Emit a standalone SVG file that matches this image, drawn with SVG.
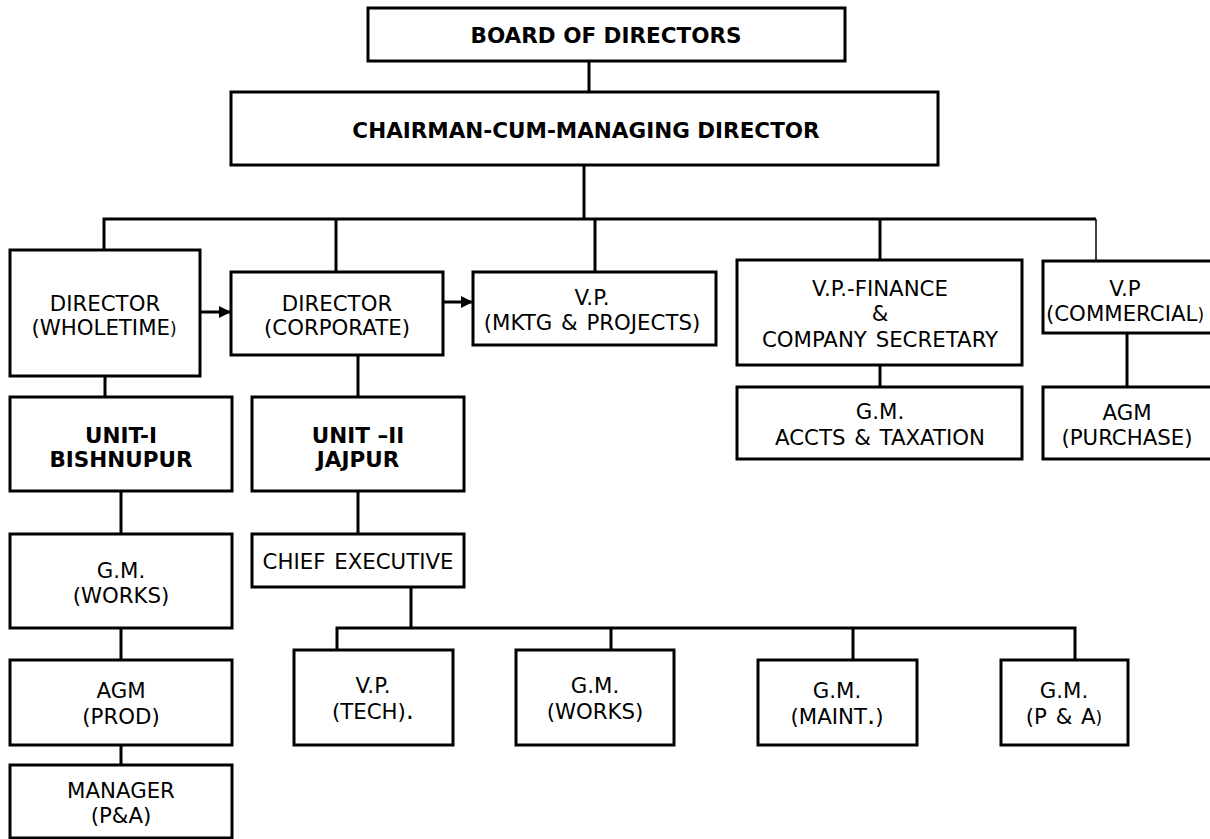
<svg xmlns="http://www.w3.org/2000/svg" width="1210" height="839" viewBox="0 0 1210 839">
<style>
.box{fill:#fff;stroke:#000;stroke-width:3}
.t{font-family:"DejaVu Sans",Verdana,sans-serif;font-size:21.3px;fill:#000;text-anchor:middle;word-spacing:2px}
.b{font-weight:bold;font-size:21.5px;word-spacing:0}
.ln{fill:none;stroke:#000;stroke-width:3}
.thin{fill:none;stroke:#000;stroke-width:1.5}
.sm{font-size:17px}
.big{font-size:26px}
</style>
<defs>
<marker id="arr" markerWidth="12" markerHeight="12" refX="11" refY="6" orient="auto" markerUnits="userSpaceOnUse">
<path d="M0,0 L12,6 L0,12 z" fill="#000"/>
</marker>
</defs>
<rect width="1210" height="839" fill="#fff"/>
<g id="connectors">
<path class="ln" d="M589,61 V92"/>
<path class="ln" d="M584,165 V219"/>
<path class="ln" d="M104,250 V219 H1096"/>
<path class="thin" d="M1096,219 V261"/>
<path class="ln" d="M336,219 V272"/>
<path class="ln" d="M595,219 V272"/>
<path class="ln" d="M880,219 V260"/>
<path class="ln" d="M200,312 H230" marker-end="url(#arr)"/>
<path class="ln" d="M443,302 H472" marker-end="url(#arr)"/>
<path class="ln" d="M105,376 V397"/>
<path class="ln" d="M358,355 V397"/>
<path class="ln" d="M880,365 V387"/>
<path class="ln" d="M1127,333 V387"/>
<path class="ln" d="M121,491 V534"/>
<path class="ln" d="M121,628 V660"/>
<path class="ln" d="M121,745 V765"/>
<path class="ln" d="M358,491 V534"/>
<path class="ln" d="M411,587 V628"/>
<path class="ln" d="M337,650 V628 H1075 V660"/>
<path class="ln" d="M611,628 V650"/>
<path class="ln" d="M853,628 V660"/>
</g>
<g id="board"><rect class="box" x="368" y="8" width="477" height="53"/><text class="t b" x="606" y="43">BOARD OF DIRECTORS</text></g>
<g id="cmd"><rect class="box" x="231" y="92" width="707" height="73"/><text class="t b" x="586" y="138">CHAIRMAN-CUM-MANAGING DIRECTOR</text></g>
<g id="dir-wholetime"><rect class="box" x="10" y="250" width="190" height="126"/><text class="t" x="105" y="311">DIRECTOR</text><text class="t" x="104" y="335">(WHOLETIME<tspan class="sm">)</tspan></text></g>
<g id="dir-corporate"><rect class="box" x="231" y="272" width="212" height="83"/><text class="t" x="337" y="311">DIRECTOR</text><text class="t" x="337" y="335">(CORPORATE)</text></g>
<g id="vp-mktg"><rect class="box" x="473" y="272" width="243" height="73"/><text class="t" x="592" y="305">V.P.</text><text class="t" x="592" y="330">(MKTG &amp; PROJECTS)</text></g>
<g id="vp-finance"><rect class="box" x="737" y="260" width="285" height="105"/><text class="t" x="880" y="296">V.P.-FINANCE</text><text class="t" x="880" y="321">&amp;</text><text class="t" x="880" y="347">COMPANY SECRETARY</text></g>
<g id="vp-commercial"><rect class="box" x="1043" y="261" width="170" height="72"/><text class="t" x="1125" y="296">V.P</text><text class="t" x="1125" y="321">(COMMERCIAL<tspan class="sm">)</tspan></text></g>
<g id="gm-accts"><rect class="box" x="737" y="387" width="285" height="72"/><text class="t" x="880" y="419">G.M.</text><text class="t" x="880" y="445">ACCTS &amp; TAXATION</text></g>
<g id="agm-purchase"><rect class="box" x="1043" y="387" width="170" height="72"/><text class="t" x="1127" y="420">AGM</text><text class="t" x="1127" y="445">(PURCHASE)</text></g>
<g id="unit1"><rect class="box" x="10" y="397" width="222" height="94"/><text class="t b" x="121" y="443">UNIT-I</text><text class="t b" x="121" y="467">BISHNUPUR</text></g>
<g id="unit2"><rect class="box" x="252" y="397" width="212" height="94"/><text class="t b" x="358" y="443">UNIT –II</text><text class="t b" x="358" y="467">JAJPUR</text></g>
<g id="gm-works-1"><rect class="box" x="10" y="534" width="222" height="94"/><text class="t" x="121" y="578">G.M.</text><text class="t" x="121" y="603">(WORKS)</text></g>
<g id="chief-exec"><rect class="box" x="252" y="534" width="212" height="53"/><text class="t" x="358" y="569">CHIEF EXECUTIVE</text></g>
<g id="agm-prod"><rect class="box" x="10" y="660" width="222" height="85"/><text class="t" x="121" y="698">AGM</text><text class="t" x="121" y="724">(PROD)</text></g>
<g id="manager-pa"><rect class="box" x="10" y="765" width="222" height="73"/><text class="t" x="121" y="798">MANAGER</text><text class="t" x="121" y="823">(P&amp;A)</text></g>
<g id="vp-tech"><rect class="box" x="294" y="650" width="159" height="95"/><text class="t" x="373" y="693">V.P.</text><text class="t" x="373" y="719">(TECH)<tspan class="big">.</tspan></text></g>
<g id="gm-works-2"><rect class="box" x="516" y="650" width="158" height="95"/><text class="t" x="595" y="693">G.M.</text><text class="t" x="595" y="719">(WORKS)</text></g>
<g id="gm-maint"><rect class="box" x="758" y="660" width="159" height="85"/><text class="t" x="837" y="698">G.M.</text><text class="t" x="837" y="724">(MAINT<tspan class="big">.</tspan>)</text></g>
<g id="gm-pa"><rect class="box" x="1001" y="660" width="127" height="85"/><text class="t" x="1064" y="698">G.M.</text><text class="t" x="1064" y="724">(P &amp; A<tspan class="sm">)</tspan></text></g>
</svg>
